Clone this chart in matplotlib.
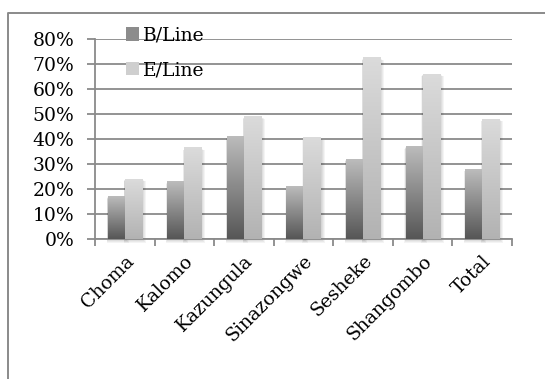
import numpy as np
import matplotlib
matplotlib.use("Agg")
import matplotlib.pyplot as plt
from matplotlib.patches import Rectangle
from matplotlib.lines import Line2D
from matplotlib.colors import LinearSegmentedColormap

districts = ["Choma", "Kalomo", "Kazungula", "Sinazongwe", "Sesheke", "Shangombo", "Total"]
b_line = [0.17, 0.23, 0.41, 0.21, 0.32, 0.37, 0.28]
e_line = [0.24, 0.365, 0.49, 0.405, 0.725, 0.66, 0.48]
series_names = ["B/Line", "E/Line"]

# bottom -> top shading for each series
b_cmap = LinearSegmentedColormap.from_list("b", ["#565656", "#bcbcbc"])
e_cmap = LinearSegmentedColormap.from_list("e", ["#b2b2b2", "#dbdbdb"])

plt.rcParams["font.family"] = "DejaVu Serif"
fs = 13.5

fig = plt.figure(figsize=(5.45, 3.79), dpi=100)
ax = fig.add_axes([0.1743, 0.3686, 0.9394 - 0.1743, 0.8963 - 0.3686])

x = np.arange(len(districts))
width = 1 / 3.5
grad = np.linspace(0, 1, 256).reshape(-1, 1)


def gradient_bars(xs, vals, cmap):
    bars = ax.bar(xs, vals, width=width, facecolor="none", edgecolor="none", zorder=3)
    for rect in bars:
        x0 = rect.get_x()
        w = rect.get_width()
        h = rect.get_height()
        # soft drop shadow
        for k in range(1, 5):
            dx = 0.017 * k
            dy = 0.004 * k
            ax.add_patch(Rectangle((x0 - dx * 0.3, -dy), w + dx * 1.3, h + dy * 0.5,
                                   facecolor="black", alpha=0.045, edgecolor="none",
                                   zorder=2, clip_on=False))
        ax.imshow(grad, cmap=cmap, extent=(x0, x0 + w, 0, h), origin="lower",
                  aspect="auto", zorder=3, interpolation="bilinear")
    return bars


gradient_bars(x - width / 2, b_line, b_cmap)
gradient_bars(x + width / 2, e_line, e_cmap)

ax.set_xlim(-0.5, len(districts) - 0.5)
ax.set_ylim(0, 0.8)

grid_col = "#8a8a8a"
ax.set_yticks(np.arange(0, 0.81, 0.1))
ax.set_yticklabels([f"{int(round(v * 100))}%" for v in np.arange(0, 0.81, 0.1)])
ax.yaxis.grid(True, color=grid_col, linewidth=1.3, zorder=1)
ax.set_axisbelow(True)

ax.set_xticks(np.arange(-0.5, len(districts), 1.0))
ax.set_xticklabels([])
ax.set_xticks(x, minor=True)
ax.set_xticklabels(districts, minor=True, rotation=45, ha="right",
                   rotation_mode="anchor", fontsize=fs)
ax.tick_params(axis="x", which="minor", length=0, pad=9)
ax.tick_params(axis="x", which="major", length=5, color=grid_col, width=1.3)
ax.tick_params(axis="y", length=6, color=grid_col, width=1.3, pad=9, labelsize=fs)

for s in ["top", "right"]:
    ax.spines[s].set_visible(False)
for s in ["left", "bottom"]:
    ax.spines[s].set_color(grid_col)
    ax.spines[s].set_linewidth(1.3)

# legend with solid sample squares
handles = [Rectangle((0, 0), 1, 1, facecolor="#8c8c8c", edgecolor="none"),
           Rectangle((0, 0), 1, 1, facecolor="#cfcfcf", edgecolor="none")]
fig.legend(handles, series_names, loc="upper left", bbox_to_anchor=(0.231, 0.93),
           frameon=False, fontsize=fs, handlelength=0.7, handleheight=0.7,
           handletextpad=0.2, labelspacing=0.9, borderaxespad=0, borderpad=0)

# outer frame on the left and top
fig.add_artist(Line2D([8 / 545, 8 / 545, 1.0], [0.0, 1 - 12.7 / 379, 1 - 12.7 / 379],
                      transform=fig.transFigure, color="#8a8a8a", linewidth=1.4))

fig.savefig("out.png", dpi=100)
